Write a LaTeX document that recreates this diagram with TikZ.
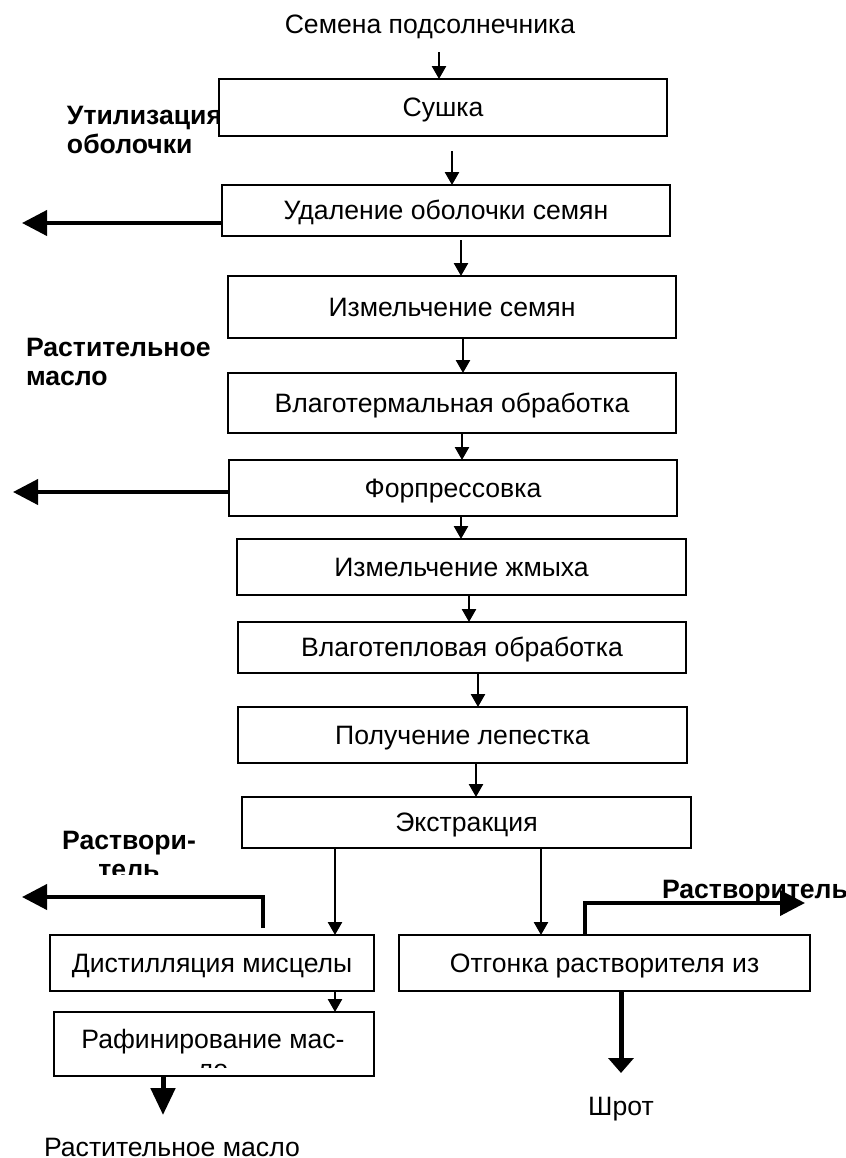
\documentclass[tikz,border=0pt]{standalone}
\usepackage{fontspec}
\setmainfont{Liberation Sans}
\usetikzlibrary{arrows.meta}

\begin{document}
\begin{tikzpicture}[x=0.5pt, y=-0.5pt, >={Triangle[length=6.5pt, width=7pt]},
		every node/.style={font=\fontsize{13.3}{15}\selectfont, inner sep=0pt, outer sep=0pt},
		box/.style={draw, line width=1pt, text height=12pt, text depth=2.7pt},
		flow/.style={->, line width=1.3pt},
		outflow/.style={-{Triangle[length=12.5pt, width=12.5pt]}, line width=2pt},
		side/.style={font=\fontsize{13.3}{14.5}\selectfont\bfseries}]
	\useasboundingbox (0,0) rectangle (846,1158);
	
	% ==================== основная цепочка ====================
	\node[anchor=base] (seed) at (430,33) {Семена подсолнечника};
	\node[box, minimum width=224pt, minimum height=28.5pt] (dry) at (443,107.5) {Сушка};
	\node[box, minimum width=224pt, minimum height=25.5pt] (hull) at (446,210.5) {Удаление оболочки семян};
	\node[box, minimum width=224pt, minimum height=31pt] (grind) at (452,307) {Измельчение семян};
	\node[box, minimum width=224pt, minimum height=30pt] (hydro) at (452,403) {Влаготермальная обработка};
	\node[box, minimum width=224pt, minimum height=28pt] (press) at (453,488) {Форпрессовка};
	\node[box, minimum width=224.5pt, minimum height=28pt] (cake) at (461.5,567) {Измельчение жмыха};
	\node[box, minimum width=224pt, minimum height=25.5pt] (heat) at (462,647.5) {Влаготепловая обработка};
	\node[box, minimum width=224.5pt, minimum height=28pt] (flake) at (462.5,735) {Получение лепестка};
	\node[box, minimum width=224.5pt, minimum height=25.5pt] (extr) at (466.5,822.5) {Экстракция};
	
	% ==================== две ветви после экстракции ====================
	\node[box, minimum width=162pt, minimum height=28pt] (dist) at (212,963) {Дистилляция мисцелы};
	\node[box, minimum width=160pt, minimum height=32pt] (refine) at (214,1044) {};
	\node[box, minimum width=205.5pt, minimum height=28pt] (strip) at (604.5,963) {Отгонка растворителя из};
	\node[anchor=base] (meal) at (621,1115) {Шрот};
	\node[anchor=base] (oil) at (172,1156) {Растительное масло};
	
	% текст обрезан рамкой
	\begin{scope}
		\clip (refine.north west) rectangle (374,1067);
		\node[align=center, anchor=north] (refinetext) at (213,1029) {Рафинирование мас-\\ло};
	\end{scope}
	
	% ==================== боковые подписи ====================
	\begin{scope}
		\clip (0,0) rectangle (219,153);
		\node[side, align=left, anchor=north west] (husk) at (67,106) {Утилизация\\оболочки};
	\end{scope}
	\node[side, align=left, anchor=north west] (oilside) at (26,338.5) {Растительное\\масло};
	\begin{scope}
		\clip (0,780) rectangle (240,874);
		\node[side, align=center, anchor=north] (solvleft) at (129,831.5) {Раствори-\\тель};
	\end{scope}
	\node[side, anchor=base west] (solvright) at (662,898) {Растворитель};
	
	% стрелки основной цепочки
	\draw[flow, shorten <=7pt] (seed.south -| 439,0) -- (dry.north -| 439,0);
	\draw[flow, shorten <=7.5pt] (dry.south -| 452,0) -- (hull.north -| 452,0);
	\draw[flow, shorten <=2pt] (hull.south -| 461,0) -- (grind.north -| 461,0);
	\draw[flow] (grind.south -| 463,0) -- (hydro.north -| 463,0);
	\draw[flow] (hydro.south -| 462,0) -- (press.north -| 462,0);
	\draw[flow] (press.south -| 461,0) -- (cake.north -| 461,0);
	\draw[flow] (cake.south -| 469,0) -- (heat.north -| 469,0);
	\draw[flow] (heat.south -| 478,0) -- (flake.north -| 478,0);
	\draw[flow] (flake.south -| 476,0) -- (extr.north -| 476,0);
	\draw[flow] (extr.south -| 335,0) -- (dist.north -| 335,0);
	\draw[flow] (extr.south -| 541,0) -- (strip.north -| 541,0);
	\draw[flow] (dist.south -| 335,0) -- (refine.north -| 335,0);
	
	% отводы
	\coordinate (husktip) at (22,223);
	\draw[outflow] (husktip -| hull.west) -- (husktip);
	\coordinate (oiltip) at (13,492);
	\draw[outflow] (oiltip -| press.west) -- (oiltip);
	\coordinate (distfrom) at (263,928);
	\coordinate (disttip) at (22,897);
	\draw[outflow] (distfrom) |- (disttip);
	\coordinate (striptip) at (805,903);
	\draw[outflow] (strip.north -| 585,0) |- (striptip);
	\coordinate (oildown) at (163,1115);
	\draw[-{Triangle[length=13.5pt, width=12pt]}, line width=2.5pt] (oildown |- refine.south) -- (oildown);
	\coordinate (mealdown) at (621,1073);
	\draw[-{Triangle[length=7.5pt, width=12.5pt]}, line width=2.5pt] (mealdown |- strip.south) -- (mealdown);
\end{tikzpicture}
\end{document}
